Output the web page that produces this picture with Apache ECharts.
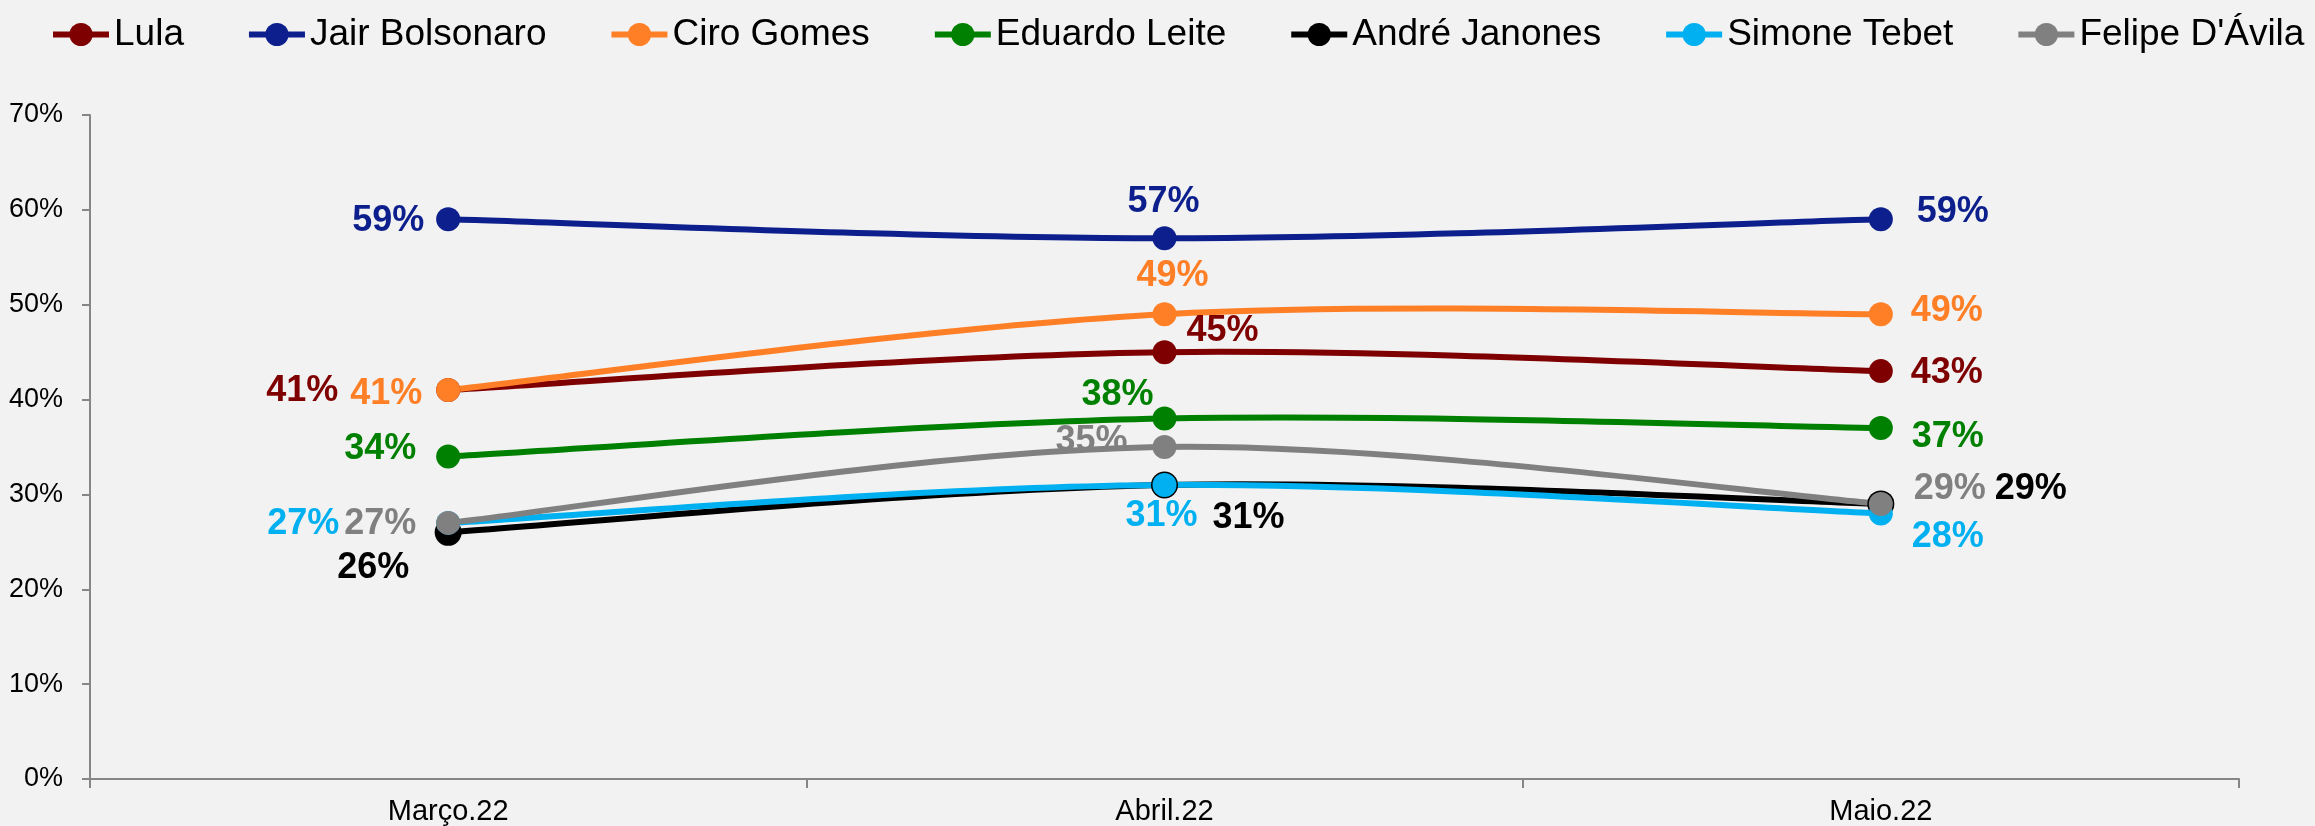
<!DOCTYPE html>
<html>
<head>
<meta charset="utf-8">
<script src="https://cdn.jsdelivr.net/npm/echarts@6/dist/echarts.min.js"></script>
<style>
  html, body { margin: 0; padding: 0; background: #f2f2f2; }
  #chart { width: 2315px; height: 826px; }
</style>
</head>
<body>
<div id="chart"></div>
<script>
// dados (%)
const categories = ['Março.22', 'Abril.22', 'Maio.22'];
const lula = [41, 45, 43];
const bolsonaro = [59, 57, 59];
const ciro = [41, 49, 49];
const leite = [34, 38, 37];
const janones = [26, 31, 29];
const tebet = [27, 31, 28];
const davila = [27, 35, 29];

// deslocamento dos rótulos em relação ao ponto [dx, dy] por mês
const labelNudge = {
  'Lula': [[-146, 1], [58, -21], [66, 2]],
  'Jair Bolsonaro': [[-60, 2], [-1, -36], [72, -7]],
  'Ciro Gomes': [[-62, 4], [8, -38], [66, -3]],
  'Eduardo Leite': [[-68, -7], [-47, -23], [67, 9]],
  'André Janones': [[-75, 36], [84, 33], [150, -15]],
  'Simone Tebet': [[-145, 1], [-3, 31], [67, 24]],
  "Felipe D'Ávila": [[-68, 1], [-73, -6], [69, -15]]
};

const seriesList = [
  { name: 'Lula', values: lula, color: '#7f0000' },
  { name: 'Jair Bolsonaro', values: bolsonaro, color: '#0c1f8c' },
  { name: 'Ciro Gomes', values: ciro, color: '#ff7f27' },
  { name: 'Eduardo Leite', values: leite, color: '#008000' },
  { name: 'André Janones', values: janones, color: '#000000', size: 27 },
  { name: 'Simone Tebet', values: tebet, color: '#00b0f0' },
  { name: "Felipe D'Ávila", values: davila, color: '#808080' }
];

const LINE_W = 6;
const FONT = 'Liberation Sans, Arial, sans-serif';

// curva suavizada estilo Excel (Catmull-Rom) entre o ponto i e i+1
function curveSegment(params, api, s) {
  const n = s.values.length;
  const i = params.dataIndex;
  if (i >= n - 1) return null;
  const pt = k => {
    const j = Math.min(Math.max(k, 0), n - 1);
    return api.coord([j, s.values[j]]);
  };
  const p0 = pt(i - 1), p1 = pt(i), p2 = pt(i + 1), p3 = pt(i + 2);
  return {
    type: 'bezierCurve',
    silent: true,
    shape: {
      x1: p1[0], y1: p1[1],
      x2: p2[0], y2: p2[1],
      cpx1: p1[0] + (p2[0] - p0[0]) / 6,
      cpy1: p1[1] + (p2[1] - p0[1]) / 6,
      cpx2: p2[0] - (p3[0] - p1[0]) / 6,
      cpy2: p2[1] - (p3[1] - p1[1]) / 6
    },
    style: { stroke: s.color, lineWidth: LINE_W, fill: 'none', lineCap: 'round' }
  };
}

const chart = echarts.init(document.getElementById('chart'));

const pointSeries = seriesList.map(s => ({
  name: s.name,
  type: 'line',
  z: 3,
  symbol: 'circle',
  symbolSize: s.size || 24,
  color: s.color,
  lineStyle: { width: LINE_W, color: s.color, opacity: 0 },
  itemStyle: { color: s.color },
  data: s.values.map((v, i) => ({
    value: v,
    label: { offset: labelNudge[s.name][i] }
  })),
  label: {
    show: true,
    position: 'inside',
    align: 'center',
    verticalAlign: 'middle',
    formatter: '{c}%',
    fontFamily: FONT,
    fontWeight: 'bold',
    fontSize: 36,
    color: s.color
  }
}));

const curveSeries = seriesList.map(s => ({
  name: s.name,
  type: 'custom',
  z: 2,
  silent: true,
  data: s.values.map((v, i) => [i, v]),
  renderItem: (params, api) => curveSegment(params, api, s)
}));

const option = {
  backgroundColor: '#f2f2f2',
  animation: false,
  legend: {
    data: seriesList.map(s => s.name),
    top: 16,
    left: 50,
    width: 2300,
    padding: 0,
    itemGap: 62,
    itemWidth: 56,
    itemHeight: 29,
    lineStyle: { width: LINE_W, opacity: 1 },
    textStyle: { fontFamily: FONT, fontSize: 37, color: '#000' }
  },
  grid: { left: 90, right: 76, top: 115, bottom: 47 },
  xAxis: {
    type: 'category',
    data: categories,
    axisLine: { lineStyle: { color: '#868686', width: 2 } },
    axisTick: { show: true, length: 9, lineStyle: { color: '#868686', width: 2 } },
    axisLabel: { margin: 18, fontFamily: FONT, fontSize: 29, color: '#000' }
  },
  yAxis: {
    type: 'value',
    min: 0,
    max: 70,
    interval: 10,
    splitLine: { show: false },
    axisLine: { show: true, lineStyle: { color: '#868686', width: 2 } },
    axisTick: { show: true, length: 8, lineStyle: { color: '#868686', width: 2 } },
    axisLabel: {
      margin: 27,
      formatter: '{value}%',
      fontFamily: FONT,
      fontSize: 27,
      color: '#000'
    }
  },
  series: pointSeries.concat(curveSeries)
};

chart.setOption(option);
</script>
</body>
</html>
